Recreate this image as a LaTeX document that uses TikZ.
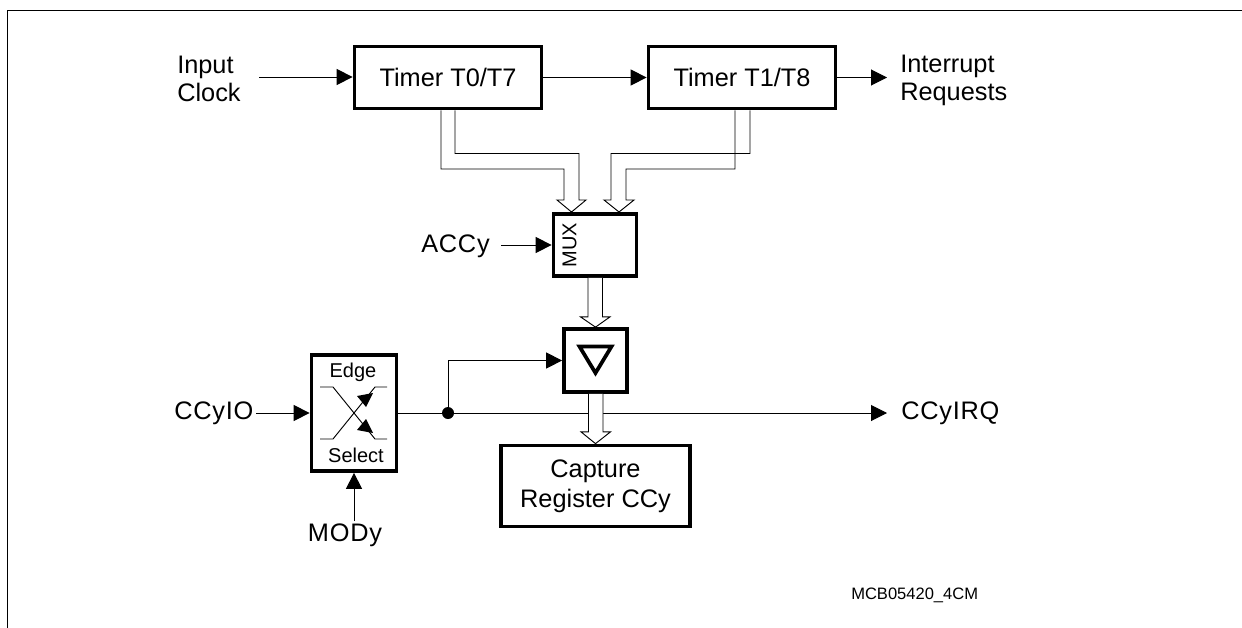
\documentclass[tikz,border=0pt]{standalone}
\usepackage{fontspec}
\setmainfont{Liberation Sans}
\newfontfamily\widefont[LetterSpace=3]{Liberation Sans}
\usetikzlibrary{arrows.meta,calc}
\tikzset{
  x=0.75pt,y=-0.75pt,
  sz/.style 2 args={minimum width=#1*0.75pt,minimum height=#2*0.75pt},
  blockbox/.style={draw,line width=2.8pt,fill=white,inner sep=0pt},
  sig/.style={line width=0.75pt,-{Triangle[length=12pt,width=12pt]}},
  thin line/.style={line width=0.7pt},
  bus/.style={draw,line width=0.7pt,fill=white,line join=miter},
  lbl/.style={inner sep=0pt,font=\fontsize{19pt}{21pt}\selectfont,align=left},
  wide lbl/.style={inner sep=0pt,font=\widefont\fontsize{19pt}{21pt}\selectfont},
  small lbl/.style={inner sep=0pt,font=\fontsize{15pt}{17pt}\selectfont},
}
\begin{document}
\begin{tikzpicture}
\useasboundingbox (0,0) rectangle (1242,628);
% frame
\coordinate (fa) at (7,628); \coordinate (fb) at (7,10); \coordinate (fc) at (1242,10);
\draw[line width=0.75pt] (fa) -- (fb) -- (fc);
% blocks
\node[blockbox,lbl,align=center,sz={187}{62},draw] (t0) at (448,77.5) {Timer T0/T7};
\node[blockbox,lbl,align=center,sz={187}{62},draw] (t1) at (742,77.5) {Timer T1/T8};
\node[blockbox,sz={83}{62}] (mux) at (595,245) {};
\node[inner sep=0pt,rotate=90,font=\fontsize{15pt}{17pt}\selectfont] (muxl) at (569.5,245) {MUX};
\node[blockbox,sz={63}{63}] (cap) at (595.5,360.5) {};
\node[blockbox,sz={85}{116}] (edge) at (354,413) {};
\node[blockbox,sz={189}{81}] (reg) at (595.5,486) {};
\node[lbl,align=center] (regl) at (595.5,486.5) {Capture\\[1.5pt]Register CCy};
% labels
\node[lbl,anchor=west] (ic) at (177,79) {Input\\Clock};
\node[lbl,anchor=west] (ir) at (900,80) {Interrupt\\Requests};
\node[wide lbl,anchor=west] (acc) at (421,246) {ACCy};
\node[wide lbl,anchor=west] (io) at (174,413) {CCyIO};
\node[wide lbl,anchor=west] (irq) at (901,413) {CCyIRQ};
\node[wide lbl] (mod) at (345,535) {MODy};
\node[inner sep=0pt,font=\fontsize{12.4pt}{15pt}\selectfont,anchor=west] (code) at (851,595) {MCB05420\_4CM};
\node[small lbl] (edl) at (353,372) {Edge};
\node[small lbl] (sel) at (356,455) {Select};
% horizontal arrows
\coordinate (icout) at (259,77);
\coordinate (acin) at (501,245);
\coordinate (ioin) at (256,413);
\coordinate (irqend) at (887,413);
\coordinate (irend) at (887,77.5);
\coordinate (modst) at (354,521);
\draw[sig] (icout) -- (icout -| t0.west);
\draw[sig] (t0.east) -- (t1.west);
\draw[sig] (t1.east) -- (irend);
\draw[sig] (acin) -- (acin -| mux.west);
\draw[sig] (ioin) -- (edge.west);
\draw[sig] (modst) -- (edge.south);
% trigger path
\coordinate (jn) at (448,413);
\draw[sig] (edge.east) -- (irqend);
\draw[sig] (jn) |- (cap.west);
\fill (jn) circle (6);
% bus T0 to MUX
\draw[bus] ($(t0.south)+(-7,0)$) |- (564,169) -- (564,200) -- (557,200) -- (571.5,212)
  -- (586,200) -- (579,200) -- (579,153.5) -| ($(t0.south)+(7,0)$);
% bus T1 to MUX
\draw[bus] ($(t1.south)+(8,0)$) |- (611,153.5) -- (611,200) -- (604,200) -- (619,212)
  -- (634,200) -- (626,200) -- (626,169) -| ($(t1.south)+(-7,0)$);
% bus MUX to capture gate
\draw[bus] ($(mux.south)+(-7,0)$) -- ++(0,39) -- ++(-7.5,0) -- (cap.north) -- ($(mux.south)+(15,39)$)
  -- ++(-7.5,0) -- ($(mux.south)+(7.5,0)$);
% bus gate to register
\draw[bus] ($(cap.south)+(-7,0)$) -- ++(0,38) -- ++(-7.5,0) -- (reg.north) -- ($(cap.south)+(15,38)$)
  -- ++(-7.5,0) -- ($(cap.south)+(7.5,0)$);
% gate triangle
\draw[line width=2.8pt,line join=miter] (579.5,346.5) -- (611.5,346.5) -- (595.5,373) -- cycle;
% edge select crossing
\draw[thin line] (320,387) -- (333,387) -- (375,439) -- (387,439);
\draw[thin line] (320,439) -- (333,439) -- (375,387) -- (387,387);
\path[fill,draw=none] (373,393) -- (357,396) -- (366,407) -- cycle;
\path[fill,draw=none] (373,433) -- (357,430) -- (366,419) -- cycle;
\end{tikzpicture}
\end{document}
